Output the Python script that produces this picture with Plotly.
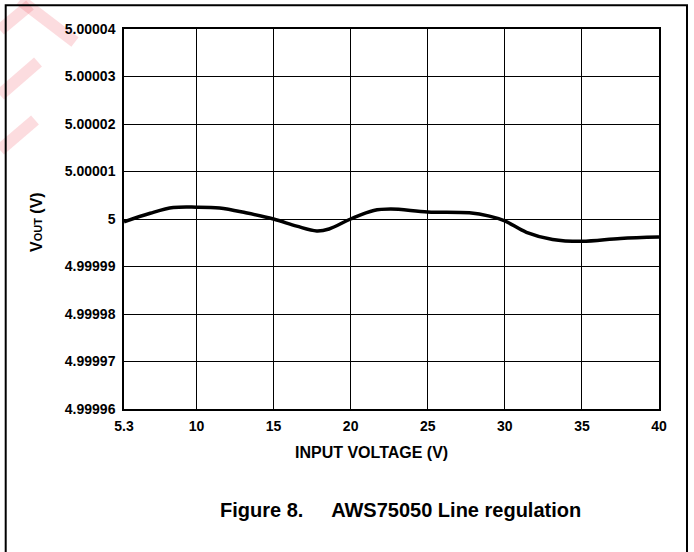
import plotly.graph_objects as go

# Data
input_voltage = [5.3, 7.0, 8.5, 10.0, 11.5, 13.2, 15.0, 16.5, 17.8, 18.6, 20.0,
                 21.5, 22.6, 25.0, 27.7, 29.0, 30.0, 31.4, 33.1, 35.0, 37.5, 40.0]
vout = [4.9999994, 5.0000012, 5.0000024, 5.0000025, 5.0000023, 5.0000013, 5.0000000,
        4.9999985, 4.9999975, 4.9999979, 5.0000000, 5.0000018, 5.0000021, 5.0000015,
        5.0000013, 5.0000006, 4.9999996, 4.9999972, 4.9999957, 4.9999953, 4.9999959,
        4.9999962]

x_tick_vals = [5.3, 10, 15, 20, 25, 30, 35, 40]
x_tick_text = ["5.3", "10", "15", "20", "25", "30", "35", "40"]
y_tick_vals = [4.99996, 4.99997, 4.99998, 4.99999, 5.0, 5.00001, 5.00002, 5.00003, 5.00004]
y_tick_text = ["4.99996", "4.99997", "4.99998", "4.99999", "5", "5.00001", "5.00002",
               "5.00003", "5.00004"]

FONT = "Liberation Sans, Arial, sans-serif"

fig = go.Figure()
fig.add_trace(go.Scatter(
    x=input_voltage, y=vout, mode="lines",
    line=dict(color="black", width=3.5, shape="spline", smoothing=1.0),
    showlegend=False, hoverinfo="x+y",
))

W, H = 694, 552
L, R, T, B = 124, 35, 29, 143
pw, ph = W - L - R, H - T - B

def px(xp):
    return (xp - L) / pw

def py(yp):
    return (H - B - yp) / ph

pink = "rgba(240,60,80,0.18)"
watermark = [
    ((20, 0), (75, 42)),
    ((0, 30), (30, 5)),
    ((0, 95), (38, 62)),
    ((0, 150), (35, 120)),
]
shapes = [
    dict(type="line", xref="paper", yref="paper",
         x0=px(a[0]), y0=py(a[1]), x1=px(b[0]), y1=py(b[1]),
         line=dict(color=pink, width=12), layer="below")
    for a, b in watermark
]
shapes.append(
    dict(type="rect", xref="paper", yref="paper",
         x0=px(5.7), x1=px(687), y0=py(600), y1=py(5.2),
         line=dict(color="black", width=2), fillcolor="rgba(0,0,0,0)", layer="above")
)

fig.update_layout(
    width=W, height=H,
    margin=dict(l=L, r=R, t=T, b=B, pad=0),
    paper_bgcolor="white", plot_bgcolor="white",
    font=dict(family=FONT, color="black"),
    xaxis=dict(
        range=[5.3, 40], tickvals=x_tick_vals, ticktext=x_tick_text,
        showgrid=True, gridcolor="black", gridwidth=1.3, zeroline=False,
        showline=True, linecolor="black", linewidth=1.5, mirror=True,
        ticks="outside", ticklen=3, tickcolor="rgba(0,0,0,0)",
        tickfont=dict(family=FONT, size=14, weight="bold", color="black"),
    ),
    yaxis=dict(
        range=[4.99996, 5.00004], tickvals=y_tick_vals, ticktext=y_tick_text,
        showgrid=True, gridcolor="black", gridwidth=1.3, zeroline=False,
        showline=True, linecolor="black", linewidth=1.5, mirror=True,
        ticks="outside", ticklen=4, tickcolor="rgba(0,0,0,0)",
        tickfont=dict(family=FONT, size=14, weight="bold", color="black"),
    ),
    shapes=shapes,
    annotations=[
        dict(text="<b>INPUT VOLTAGE (V)</b>", xref="paper", yref="paper",
             x=px(371), y=py(452), xanchor="center", yanchor="middle", showarrow=False,
             font=dict(family=FONT, size=16, color="black")),
        dict(text="<b>V<span style='font-size:11px'>OUT</span> (V)</b>", xref="paper", yref="paper",
             x=px(36), y=py(222), xanchor="center", yanchor="middle", showarrow=False,
             textangle=-90, font=dict(family=FONT, size=16, color="black")),
        dict(text="<b>Figure 8.&nbsp;&nbsp;&nbsp;&nbsp;&nbsp;AWS75050 Line regulation</b>",
             xref="paper", yref="paper", x=px(400), y=py(510), xanchor="center",
             yanchor="middle", showarrow=False,
             font=dict(family=FONT, size=20, color="black")),
    ],
)

fig.write_html("out.html", config={"displayModeBar": False},
               post_script="document.body.style.margin='0';document.body.style.overflow='hidden';")
